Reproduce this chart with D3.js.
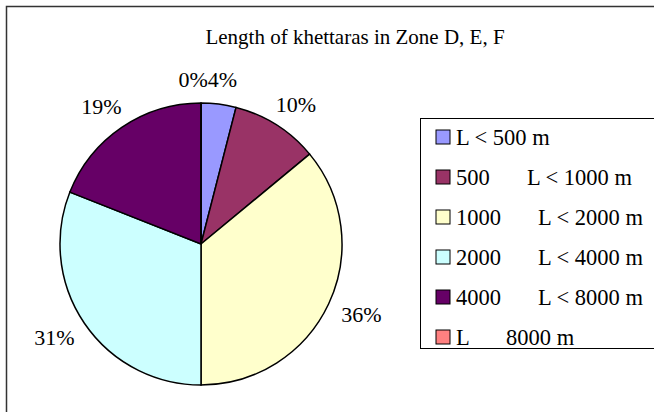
<!DOCTYPE html>
<html lang="en">
<meta charset="UTF-8">
<script src="https://d3js.org/d3.v7.min.js"></script>
<style>
  body { margin: 0; background: #fff; }
  text { font-family: "Liberation Serif", "Times New Roman", serif; fill: #000; }
</style>
<body>
<div id="chart"></div>
<script>
// data (percent of khettaras per length class)
const categories = ["L < 500 m", "500 ≤ L < 1000 m", "1000 ≤ L < 2000 m", "2000 ≤ L < 4000 m", "4000 ≤ L < 8000 m", "L ≥ 8000 m"];
const values = [4, 10, 36, 31, 19, 0];
const labels = ["4%", "10%", "36%", "31%", "19%", "0%"];
// the source lost the ≤ / ≥ glyph, so the legend shows a gap there
const legendLeft = ["L < 500 m", "500", "1000", "2000", "4000", "L"];
const legendRight = ["", "L < 1000 m", "L < 2000 m", "L < 4000 m", "L < 8000 m", "8000 m"];
const colors = ["#9999FF", "#993366", "#FFFFCC", "#CCFFFF", "#660066", "#FF8080"];

const width = 654, height = 412;
const cx = 201, cy = 244, radius = 141;

const svg = d3.select("#chart").append("svg")
    .attr("width", width)
    .attr("height", height);

// chart area border (only left and top edges show in the crop)
svg.append("rect")
    .attr("x", 6.5).attr("y", 6.5)
    .attr("width", 700).attr("height", 500)
    .attr("fill", "none")
    .attr("stroke", "#333")
    .attr("stroke-width", 1.5);

svg.append("text")
    .attr("x", 355).attr("y", 44)
    .attr("text-anchor", "middle")
    .style("font-size", "21px")
    .text("Length of khettaras in Zone D, E, F");

const color = d3.scaleOrdinal().domain(categories).range(colors);

const pie = d3.pie().sort(null).value(d => d.value);
const data = pie(categories.map((c, i) => ({cat: c, value: values[i], label: labels[i]})));

const arc = d3.arc().innerRadius(0).outerRadius(radius);

const g = svg.append("g").attr("transform", `translate(${cx},${cy})`);

g.selectAll("path")
  .data(data)
  .join("path")
    .attr("d", arc)
    .attr("fill", d => color(d.data.cat))
    .attr("stroke", "#000")
    .attr("stroke-width", 1.5);

// labels outside the pie, pushed out by half the text box
const r0 = 157;
const lbls = g.selectAll("text.lbl")
  .data(data)
  .join("text")
    .attr("class", "lbl")
    .style("font-size", "22px")
    .attr("text-anchor", "middle")
    .attr("dy", "0.35em")
    .text(d => d.data.label);

const pos = [];
lbls.each(function(d, i) {
  const a = (d.startAngle + d.endAngle) / 2;
  const dx = Math.sin(a), dy = -Math.cos(a);
  const w = this.getComputedTextLength();
  pos[i] = {x: dx * r0 + dx * w / 2, y: dy * r0 + dy * 9, w: w};
});
// the empty last slice sits on top of the first one: put its label just left of it
const last = pos.length - 1;
if (Math.abs(pos[last].x - pos[0].x) < (pos[last].w + pos[0].w) / 2) {
  pos[last].x = pos[0].x - pos[0].w / 2 - pos[last].w / 2;
  pos[last].y = pos[0].y;
}
lbls.attr("transform", (d, i) => `translate(${pos[i].x},${pos[i].y})`);

// legend
const legX = 420, legY = 118;
svg.append("rect")
    .attr("x", legX + 0.5).attr("y", legY + 0.5)
    .attr("width", 260).attr("height", 230)
    .attr("fill", "#fff")
    .attr("stroke", "#000")
    .attr("stroke-width", 1);

const rowY = d3.scalePoint().domain(categories).range([137, 337]);

const rows = svg.selectAll("g.leg")
  .data(categories)
  .join("g")
    .attr("class", "leg")
    .attr("transform", d => `translate(${legX + 16},${rowY(d)})`);

rows.append("rect")
    .attr("x", 0).attr("y", -7)
    .attr("width", 14).attr("height", 14)
    .attr("fill", d => color(d))
    .attr("stroke", "#000")
    .attr("stroke-width", 1);

rows.append("text")
    .attr("x", 20).attr("dy", "0.35em")
    .style("font-size", "22.5px")
    .text((d, i) => legendLeft[i]);

rows.append("text")
    .attr("dy", "0.35em")
    .style("font-size", "22.5px")
    .attr("x", (d, i) => i === 1 ? 91 : (i === 5 ? 70 : 102))
    .text((d, i) => legendRight[i]);
</script>
</body>
</html>
